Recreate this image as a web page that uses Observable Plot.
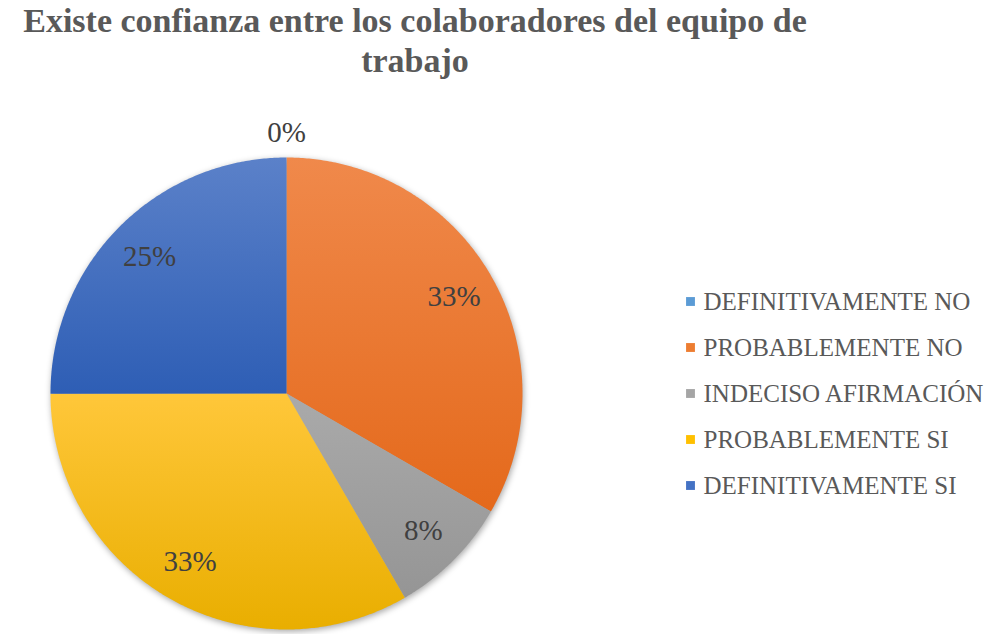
<!DOCTYPE html>
<html>
<head>
<meta charset="utf-8">
<script src="https://cdn.jsdelivr.net/npm/d3@7"></script>
<script src="https://cdn.jsdelivr.net/npm/@observablehq/plot@0.6"></script>
<style>
  html, body { margin: 0; padding: 0; background: #fff; }
  #wrap { position: relative; width: 990px; height: 634px; overflow: hidden; font-family: "Liberation Serif", "Times New Roman", Times, "DejaVu Serif", serif; }
  #title { position: absolute; left: 0; top: 1px; width: 830px; text-align: center; font-weight: bold; font-size: 34px; line-height: 40px; color: #595959; }
  #pie { position: absolute; left: 0; top: 0; }
  #legend { position: absolute; left: 680px; top: 277px; }
</style>
</head>
<body>
<div id="wrap">
  <div id="pie"></div>
  <div id="title">Existe confianza entre los colaboradores del equipo de<br>trabajo</div>
  <div id="legend"></div>
</div>
<script>
// ---- data ----
const categories = ["DEFINITIVAMENTE NO", "PROBABLEMENTE NO", "INDECISO AFIRMACIÓN", "PROBABLEMENTE SI", "DEFINITIVAMENTE SI"];
const percents = [0, 33.3, 8.3, 33.3, 25];
const legendColors = ["#5B9BD5", "#ED7D31", "#A5A5A5", "#FFC000", "#4472C4"];
const gradTop = ["#6AA6DC", "#F0894B", "#AAAAAA", "#FFC73A", "#5B81C9"];
const gradBottom = ["#4C8DCB", "#E4691B", "#959595", "#E9AE00", "#2E5EB5"];

const serif = "'Liberation Serif', 'Times New Roman', Times, 'DejaVu Serif', serif";

// ---- geometry (pie layout via d3) ----
const cx = 286, cy = 393, R = 236;
const arcs = d3.pie().sort(null).value(d => d)(percents);

const slicePts = [];
arcs.forEach((a, i) => {
  if (a.endAngle - a.startAngle <= 0) return;
  const n = Math.max(2, Math.ceil((a.endAngle - a.startAngle) / (Math.PI / 360)));
  slicePts.push({cat: categories[i], g: `url(#grad${i})`, x: 0, y: 0});
  for (let k = 0; k <= n; k++) {
    const t = a.startAngle + (a.endAngle - a.startAngle) * k / n;
    slicePts.push({cat: categories[i], g: `url(#grad${i})`, x: Math.sin(t), y: Math.cos(t)});
  }
  slicePts.push({cat: categories[i], g: `url(#grad${i})`, x: 0, y: 0});
});

const labels = arcs.map((a, i) => {
  const mid = (a.startAngle + a.endAngle) / 2;
  const rr = a.endAngle - a.startAngle > 0 ? 0.82 : 1.105;
  return {x: Math.sin(mid) * rr, y: Math.cos(mid) * rr, text: Math.round(percents[i]) + "%"};
});

const pieSvg = Plot.plot({
  width: 990,
  height: 634,
  margin: 0,
  x: {domain: [-1, 1], range: [cx - R, cx + R], axis: null},
  y: {domain: [-1, 1], range: [cy + R, cy - R], axis: null},
  color: {type: "identity"},
  style: {background: "transparent", overflow: "visible", fontFamily: serif},
  marks: [
    Plot.line(slicePts, {x: "x", y: "y", z: "cat", fill: "g", stroke: "none", curve: "linear"}),
    Plot.text(labels, {x: "x", y: "y", text: "text", fontSize: 29, fill: "#404040", fontFamily: serif, textAnchor: "middle", lineAnchor: "middle"})
  ]
});

// gradient definitions (Excel-like vertical shading)
const NS = "http://www.w3.org/2000/svg";
const defs = document.createElementNS(NS, "defs");
categories.forEach((c, i) => {
  const lg = document.createElementNS(NS, "linearGradient");
  lg.setAttribute("id", "grad" + i);
  lg.setAttribute("x1", "0"); lg.setAttribute("y1", "0");
  lg.setAttribute("x2", "0"); lg.setAttribute("y2", "1");
  [[0, gradTop[i]], [1, gradBottom[i]]].forEach(([o, col]) => {
    const s = document.createElementNS(NS, "stop");
    s.setAttribute("offset", o);
    s.setAttribute("stop-color", col);
    lg.appendChild(s);
  });
  defs.appendChild(lg);
});
pieSvg.insertBefore(defs, pieSvg.firstChild);
const lineG = pieSvg.querySelector('g[aria-label="line"]');
if (lineG) lineG.style.filter = "drop-shadow(1px 2px 3px rgba(0,0,0,0.35))";
document.getElementById("pie").appendChild(pieSvg);

// ---- legend ----
const legendSvg = Plot.plot({
  width: 310,
  height: 240,
  margin: 0,
  y: {type: "point", domain: categories, range: [23, 209], padding: 0, axis: null},
  color: {type: "identity"},
  style: {background: "transparent", overflow: "visible", fontFamily: serif},
  marks: [
    Plot.dot(categories, {y: d => d, frameAnchor: "left", dx: 10, symbol: "square", r: 5, fill: (d, i) => legendColors[i], stroke: "none"}),
    Plot.text(categories, {y: d => d, text: d => d, frameAnchor: "left", dx: 23, textAnchor: "start", lineAnchor: "middle", fontSize: 25, fill: "#595959", fontFamily: serif})
  ]
});
document.getElementById("legend").appendChild(legendSvg);
</script>
</body>
</html>
